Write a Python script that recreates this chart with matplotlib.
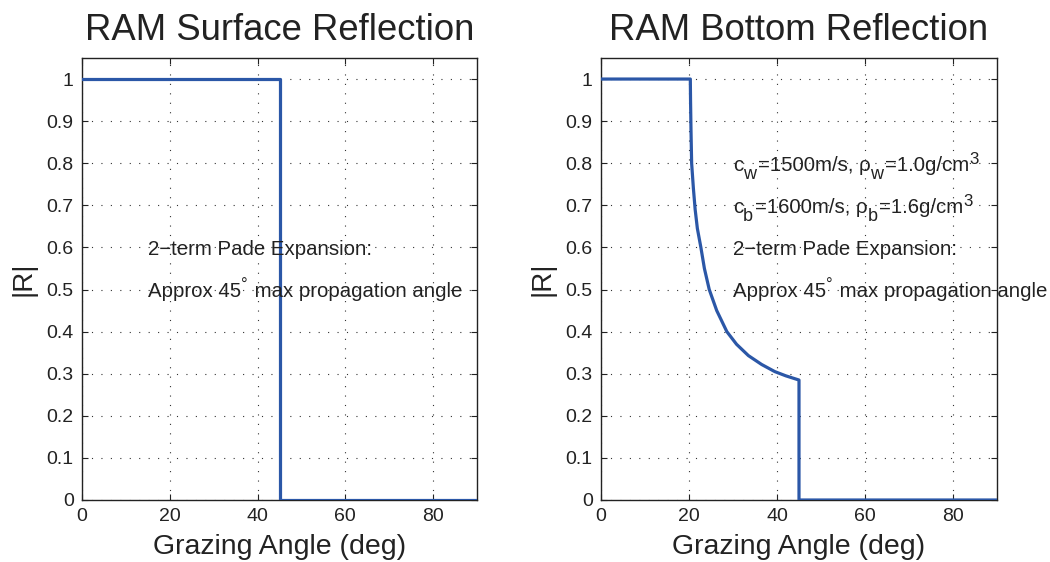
import matplotlib
matplotlib.use("Agg")
import matplotlib.pyplot as plt
from matplotlib.transforms import IdentityTransform

plt.rcParams['font.family'] = ['Liberation Sans', 'DejaVu Sans']

# Data
surf_angle = [0, 45, 45, 90]
surf_R = [1, 1, 0, 0]

bot_angle = [0, 20.3, 20.35, 20.45, 20.6, 21.0, 21.4, 21.9, 22.7, 23.5, 24.6, 26.3, 28.6,
             30.8, 33.5, 36.5, 39.5, 42.0, 45.0, 45.0, 90]
bot_R = [1, 1, 0.95, 0.88, 0.8, 0.74, 0.69, 0.645, 0.6, 0.55, 0.5, 0.45, 0.4,
         0.37, 0.343, 0.322, 0.305, 0.295, 0.285, 0, 0]

xticks = [0, 20, 40, 60, 80]
yticks = [0, 0.1, 0.2, 0.3, 0.4, 0.5, 0.6, 0.7, 0.8, 0.9, 1]
yticklabels = ['0', '0.1', '0.2', '0.3', '0.4', '0.5', '0.6', '0.7', '0.8', '0.9', '1']

titles = ['RAM Surface Reflection', 'RAM Bottom Reflection']
xlabel = 'Grazing Angle (deg)'
ylabel = '|R|'

# annotation lines as (text, kind) segments: n = normal, sub = subscript, sup = superscript
note_pade = [('2\u2212term Pade Expansion:', 'n')]
note_angle = [('Approx 45', 'n'), ('\u00b0', 'sup'), (' max propagation angle', 'n')]
note_water = [('c', 'n'), ('w', 'sub'), ('=1500m/s, \u03c1', 'n'), ('w', 'sub'),
              ('=1.0g/cm', 'n'), ('3', 'sup')]
note_bed = [('c', 'n'), ('b', 'sub'), ('=1600m/s, \u03c1', 'n'), ('b', 'sub'),
            ('=1.6g/cm', 'n'), ('3', 'sup')]
left_notes = [note_pade, note_angle]
left_note_x = 15
left_note_y = [0.6, 0.5]
right_notes = [note_water, note_bed, note_pade, note_angle]
right_note_x = 30
right_note_y = [0.8, 0.7, 0.6, 0.5]

line_color = '#2B57A7'
txt_color = '#222222'
W, H = 1050, 562
fig = plt.figure(figsize=(W / 100, H / 100), dpi=100)
ax1 = fig.add_axes([82 / W, 62 / H, 395 / W, 442 / H])
ax2 = fig.add_axes([601 / W, 62 / H, 396 / W, 442 / H])


def style(ax, title):
    ax.set_xlim(0, 90)
    ax.set_ylim(0, 1.05)
    ax.set_xticks(xticks)
    ax.set_xticklabels([str(t) for t in xticks])
    ax.set_yticks(yticks)
    ax.set_yticklabels(yticklabels)
    ax.tick_params(direction='in', length=4, width=0.8, top=True, right=True,
                   labelsize=14, colors=txt_color, pad=6)
    ax.grid(True, linestyle=(0, (1, 7.5)), color='#333333', linewidth=0.8)
    for s in ax.spines.values():
        s.set_color(txt_color)
        s.set_linewidth(1.0)
    ax.set_title(title, fontsize=26.3, color=txt_color, pad=13)
    ax.set_xlabel(xlabel, fontsize=20.5, color=txt_color, labelpad=6)
    ax.set_ylabel(ylabel, fontsize=20, color=txt_color, labelpad=7)


FS = 14.7
renderer = fig.canvas.get_renderer()


def rich_text(ax, x, y, segs):
    xd, yd = ax.transData.transform((x, y))
    px_per_pt = fig.dpi / 72.0
    base = yd - 0.716 * FS * px_per_pt / 2.0
    cur = xd
    for s, kind in segs:
        if kind == 'n':
            size, dy = FS, 0.0
        elif kind == 'sub':
            size, dy = FS * 0.88, -8.0
        else:
            size, dy = FS * 0.82, 7.0
        t = fig.text(cur, base + dy, s, fontsize=size, color=txt_color,
                     transform=IdentityTransform(), ha='left', va='baseline')
        bb = t.get_window_extent(renderer=renderer)
        cur = bb.x1 + (1.5 if kind != 'n' else 0.0)


ax1.plot(surf_angle, surf_R, color=line_color, linewidth=2.3, zorder=3)
style(ax1, titles[0])
for segs, y in zip(left_notes, left_note_y):
    rich_text(ax1, left_note_x, y, segs)

ax2.plot(bot_angle, bot_R, color=line_color, linewidth=2.3, zorder=3)
style(ax2, titles[1])
for segs, y in zip(right_notes, right_note_y):
    rich_text(ax2, right_note_x, y, segs)

fig.savefig('out.png', dpi=100)
